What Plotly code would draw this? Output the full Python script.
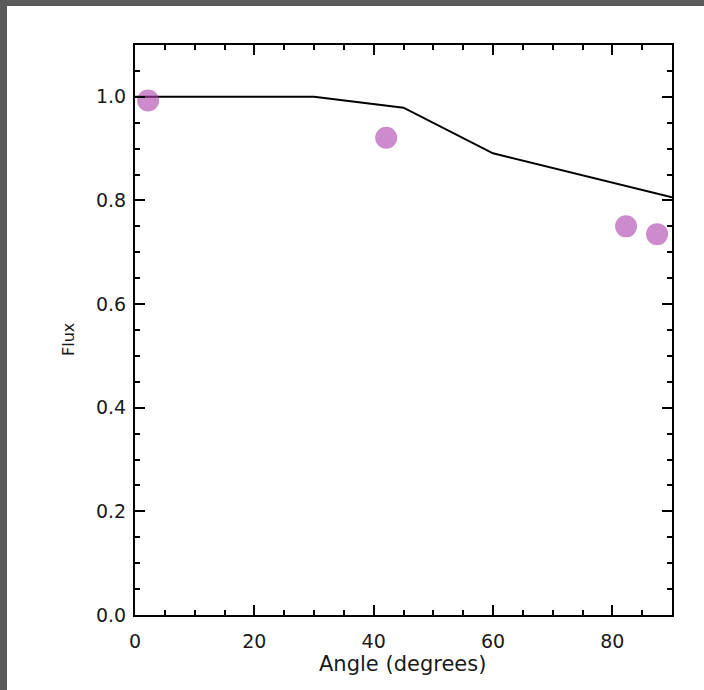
import plotly.graph_objects as go

# Model curve: flux versus viewing angle
model_angle = [0, 30, 45, 60, 90]
model_flux = [1.0, 1.0, 0.979, 0.891, 0.806]

# Measured points
obs_angle = [2.2, 42.1, 82.3, 87.5]
obs_flux = [0.993, 0.921, 0.750, 0.735]

x_ticks = [0, 20, 40, 60, 80]
y_ticks = [0.0, 0.2, 0.4, 0.6, 0.8, 1.0]

W, H = 704, 690
ML, MR, MT, MB = 135, 32, 45, 75
pw, ph = W - ML - MR, H - MT - MB


def px_to_paper_x(px):
    return (px - ML) / pw


def px_to_paper_y(py):
    return (H - MB - py) / ph


fig = go.Figure()
fig.add_trace(go.Scatter(
    x=model_angle, y=model_flux, mode="lines",
    line=dict(color="black", width=2), showlegend=False, hoverinfo="skip",
))
fig.add_trace(go.Scatter(
    x=obs_angle, y=obs_flux, mode="markers",
    marker=dict(size=22, color="rgb(170,62,170)", opacity=0.6, line=dict(width=0)),
    showlegend=False,
))

# white page framed by a dark border on the top and left edges
fig.add_shape(
    type="rect", xref="paper", yref="paper", layer="below",
    x0=px_to_paper_x(7), x1=px_to_paper_x(W + 5),
    y0=px_to_paper_y(H + 5), y1=px_to_paper_y(6),
    fillcolor="white", line=dict(width=0),
)

font_family = "DejaVu Sans"
text_color = "#1a1a1a"

axis_common = dict(
    showline=True, linecolor="black", linewidth=2, mirror="allticks",
    ticks="inside", ticklen=10, tickwidth=2, tickcolor="black",
    showgrid=False, zeroline=False,
    tickfont=dict(family=font_family, size=19, color=text_color),
)

fig.update_xaxes(
    range=[0, 90], tickvals=x_ticks, ticktext=[str(v) for v in x_ticks],
    minor=dict(ticks="inside", ticklen=5, tickwidth=2, tickcolor="black", dtick=5, tick0=0, showgrid=False),
    ticklabelstandoff=8,
    **axis_common,
)
fig.update_yaxes(
    range=[0, 1.1], tickvals=y_ticks, ticktext=[f"{v:.1f}" for v in y_ticks],
    minor=dict(ticks="inside", ticklen=5, tickwidth=2, tickcolor="black", dtick=0.05, tick0=0, showgrid=False),
    ticklabelstandoff=3,
    **axis_common,
)

# axis titles
fig.add_annotation(
    text="Angle (degrees)", xref="paper", yref="paper",
    x=px_to_paper_x(402), y=px_to_paper_y(664), xanchor="center", yanchor="middle",
    showarrow=False, font=dict(family=font_family, size=21, color=text_color),
)
fig.add_annotation(
    text="Flux", xref="paper", yref="paper", textangle=-90,
    x=px_to_paper_x(68), y=px_to_paper_y(340), xanchor="center", yanchor="middle",
    showarrow=False, font=dict(family=font_family, size=16, color=text_color),
)

fig.update_layout(
    width=W, height=H,
    margin=dict(l=ML, r=MR, t=MT, b=MB, pad=0),
    paper_bgcolor="#5a5a5a", plot_bgcolor="white",
)

fig.write_html("out.html")
